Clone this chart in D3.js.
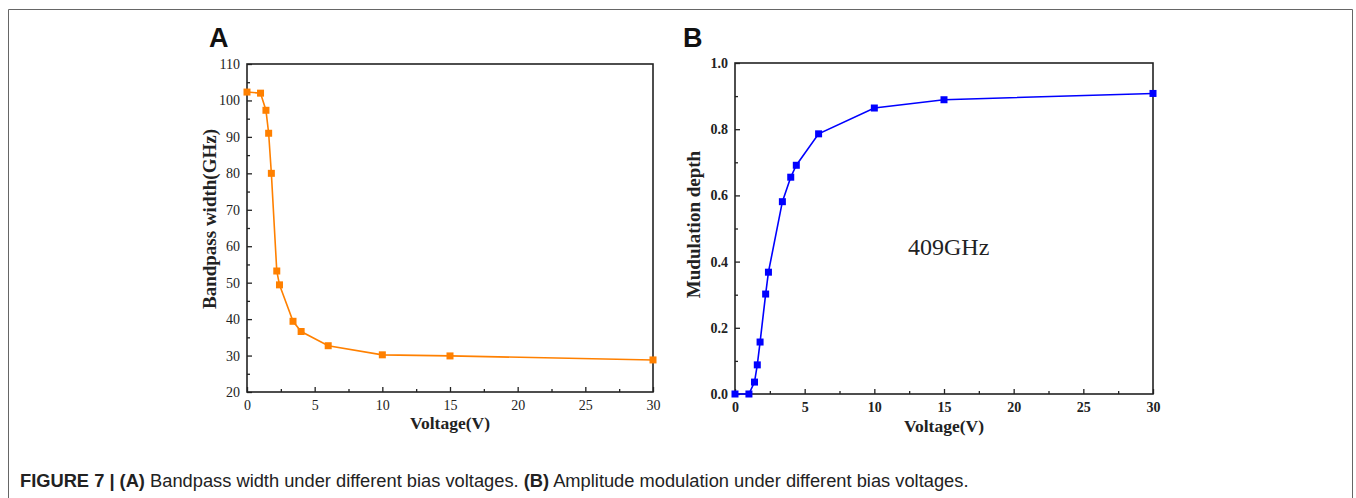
<!DOCTYPE html>
<html>
<head>
<meta charset="utf-8">
<script src="https://cdn.jsdelivr.net/npm/d3@7"></script>
<style>
  body { margin: 0; background: #fff; }
  svg { display: block; }
</style>
</head>
<body>
<svg id="chart" width="1356" height="498"></svg>
<script>
// Panel A: bandpass width vs voltage
const voltageA = [0, 1, 1.4, 1.6, 1.8, 2.2, 2.4, 3.4, 4, 6, 10, 15, 30];
const bandwidth = [102.3, 102, 97.3, 91, 80, 53.2, 49.4, 39.4, 36.6, 32.7, 30.2, 29.9, 28.8];

// Panel B: modulation depth vs voltage
const voltageB = [0, 1, 1.4, 1.6, 1.8, 2.2, 2.4, 3.4, 4, 4.4, 6, 10, 15, 30];
const depth = [0, 0, 0.036, 0.088, 0.157, 0.302, 0.368, 0.581, 0.655, 0.691, 0.786, 0.864, 0.889, 0.908];

const xTicks = [0, 5, 10, 15, 20, 25, 30];
const xMinor = [2.5, 7.5, 12.5, 17.5, 22.5, 27.5];
const yTicksA = [20, 30, 40, 50, 60, 70, 80, 90, 100, 110];
const yMinorA = [25, 35, 45, 55, 65, 75, 85, 95, 105];
const yTicksB = [0, 0.2, 0.4, 0.6, 0.8, 1.0];
const yMinorB = [0.1, 0.3, 0.5, 0.7, 0.9];

const serif = '"Liberation Serif", "Times New Roman", serif';
const sans = '"Liberation Sans", Arial, sans-serif';

const svg = d3.select('#chart');

// outer frame (open at the bottom)
svg.append('path')
    .attr('d', 'M8.5,498 L8.5,9.5 L1352.5,9.5 L1352.5,498')
    .attr('fill', 'none')
    .attr('stroke', '#666')
    .attr('stroke-width', 1);

function panel(opts) {
    const { left, top, right, bottom } = opts;
    const x = d3.scaleLinear().domain([0, 30]).range([left, right]);
    const y = d3.scaleLinear().domain(opts.yDomain).range([bottom, top]);
    const g = svg.append('g');

    // minor ticks
    g.append('g').attr('transform', `translate(0,${bottom})`)
        .call(d3.axisBottom(x).tickValues(xMinor).tickSize(-3).tickFormat(''))
        .call(s => s.select('.domain').remove());
    g.append('g').attr('transform', `translate(${left},0)`)
        .call(d3.axisLeft(y).tickValues(opts.yMinor).tickSize(-3).tickFormat(''))
        .call(s => s.select('.domain').remove());

    // major ticks + labels
    const xa = g.append('g').attr('transform', `translate(0,${bottom})`)
        .call(d3.axisBottom(x).tickValues(xTicks).tickSize(-5).tickPadding(8).tickFormat(d3.format('d')));
    const ya = g.append('g').attr('transform', `translate(${left},0)`)
        .call(d3.axisLeft(y).tickValues(opts.yTicks).tickSize(-5).tickPadding(7).tickFormat(opts.yFormat));

    [xa, ya].forEach(a => {
        a.select('.domain').remove();
        a.selectAll('text')
            .attr('font-family', serif)
            .attr('font-size', 14)
            .attr('font-weight', opts.tickBold ? 'bold' : 'normal')
            .attr('fill', '#222');
    });
    g.selectAll('.tick line').attr('stroke', '#222').attr('stroke-width', 1.3);

    // plot frame
    g.append('rect')
        .attr('x', left).attr('y', top)
        .attr('width', right - left).attr('height', bottom - top)
        .attr('fill', 'none').attr('stroke', '#222').attr('stroke-width', 1.6);

    // series
    const pts = opts.xs.map((v, i) => [v, opts.ys[i]]);
    g.append('path')
        .datum(pts)
        .attr('fill', 'none')
        .attr('stroke', opts.color)
        .attr('stroke-width', 1.6)
        .attr('d', d3.line().x(d => x(d[0])).y(d => y(d[1])));
    g.selectAll('rect.pt')
        .data(pts)
        .join('rect')
        .attr('class', 'pt')
        .attr('x', d => x(d[0]) - 3.5)
        .attr('y', d => y(d[1]) - 3.5)
        .attr('width', 7).attr('height', 7)
        .attr('fill', opts.color);

    // titles
    g.append('text')
        .attr('x', (left + right) / 2 + opts.xTitleDx)
        .attr('y', opts.xTitleY)
        .attr('text-anchor', 'middle')
        .attr('font-family', serif).attr('font-weight', 'bold').attr('font-size', 17.5)
        .attr('fill', '#222')
        .text('Voltage(V)');
    g.append('text')
        .attr('transform', `translate(${opts.yTitleX},${(top + bottom) / 2 + opts.yTitleDy}) rotate(-90)`)
        .attr('text-anchor', 'middle')
        .attr('font-family', serif).attr('font-weight', 'bold').attr('font-size', 19)
        .attr('fill', '#222')
        .text(opts.yTitle);

    // panel letter
    g.append('text')
        .attr('x', opts.letterX).attr('y', 47)
        .attr('font-family', sans).attr('font-weight', 'bold').attr('font-size', 27)
        .attr('fill', '#111')
        .text(opts.letter);

    return { x, y, g };
}

panel({
    left: 247, top: 64, right: 653, bottom: 392,
    yDomain: [20, 110], yTicks: yTicksA, yMinor: yMinorA, yFormat: d3.format('d'),
    tickBold: false, xs: voltageA, ys: bandwidth, color: '#ff8000',
    xTitleY: 429, xTitleDx: 0, yTitleX: 216, yTitleDy: -9, yTitle: 'Bandpass width(GHz)',
    letter: 'A', letterX: 209
});

const b = panel({
    left: 735, top: 63, right: 1153, bottom: 394,
    yDomain: [0, 1], yTicks: yTicksB, yMinor: yMinorB, yFormat: d3.format('.1f'),
    tickBold: true, xs: voltageB, ys: depth, color: '#0000ff',
    xTitleY: 432, xTitleDx: 0, yTitleX: 700, yTitleDy: -4, yTitle: 'Mudulation depth',
    letter: 'B', letterX: 683
});

b.g.append('text')
    .attr('x', 908).attr('y', 255)
    .attr('font-family', serif).attr('font-size', 24)
    .attr('fill', '#222')
    .text('409GHz');

// caption
const cap = svg.append('text')
    .attr('x', 20).attr('y', 487)
    .attr('font-family', sans).attr('font-size', 18.3)
    .attr('fill', '#222');
cap.append('tspan').attr('font-weight', 'bold').text('FIGURE 7 | (A)');
cap.append('tspan').text(' Bandpass width under different bias voltages. ');
cap.append('tspan').attr('font-weight', 'bold').text('(B)');
cap.append('tspan').text(' Amplitude modulation under different bias voltages.');
</script>
</body>
</html>
